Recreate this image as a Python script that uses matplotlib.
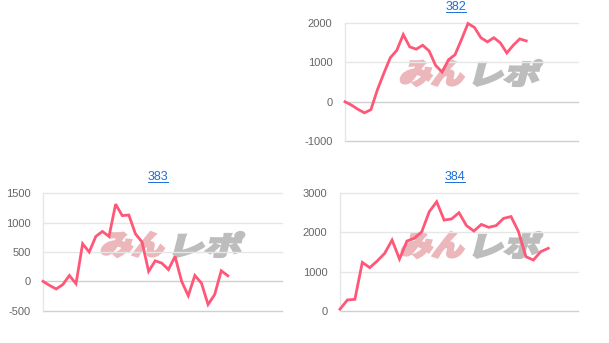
import matplotlib
matplotlib.use("Agg")
import matplotlib.pyplot as plt
from matplotlib.textpath import TextPath
from matplotlib.patches import PathPatch
from matplotlib.font_manager import FontProperties
from matplotlib.transforms import Affine2D, IdentityTransform
from matplotlib.lines import Line2D

plt.rcParams['font.family'] = ['Liberation Sans', 'DejaVu Sans']
plt.rcParams['axes.unicode_minus'] = False

# ---- data ----
titles = ["382", "383", "384"]
vals_382 = [0, -85, -190, -280, -200, 300, 720, 1115, 1300, 1700, 1390, 1330, 1430, 1285,
            920, 750, 1065, 1190, 1575, 1980, 1880, 1620, 1515, 1620, 1490, 1235, 1430, 1590, 1540]
vals_383 = [0, -70, -130, -55, 100, -40, 640, 500, 765, 850, 765, 1315, 1120, 1130, 810, 670,
            170, 350, 310, 200, 425, 0, -245, 100, -30, -395, -225, 180, 95]
vals_384 = [40, 275, 290, 1235, 1100, 1270, 1465, 1805, 1320, 1780, 1850, 2020, 2530, 2785,
            2315, 2345, 2505, 2175, 2035, 2205, 2130, 2175, 2360, 2405, 2020, 1380, 1295, 1510, 1595]
yticks_382 = [-1000, 0, 1000, 2000]
yticks_383 = [-500, 0, 500, 1000, 1500]
yticks_384 = [0, 1000, 2000, 3000]

W, H = 609, 343
fig = plt.figure(figsize=(W / 100, H / 100), dpi=100)
fig.patch.set_facecolor("white")

LINE = "#ff5777"
GRID = "#e6e6e6"
ZERO = "#d0d0d0"


def px_axes(l, r, t, b):
    return fig.add_axes([l / W, (H - b) / H, (r - l) / W, (b - t) / H])


def draw_logo(ax, x0, y0, x1, y1, split):
    # x0..x1, y0..y1 in image pixel coords (y from top)
    fp = FontProperties(family=["Noto Sans CJK JP"], weight="black")
    parts = [("みん", x0, split - 2, "#ebb7bb"), ("レポ", split + 3, x1, "#bdbdbd")]
    for txt, a, b, col in parts:
        tp = TextPath((0, 0), txt, size=40, prop=fp)
        ext = tp.get_extents()
        w_t = b - a
        h_t = y1 - y0
        sh = 0.25
        sx = (w_t - h_t * sh) / ext.width
        sy = h_t / ext.height
        tr = (Affine2D().translate(-ext.x0, -ext.y0).scale(sx, sy)
              .skew(sh, 0).translate(a, H - y1))
        patch = PathPatch(tr.transform_path(tp), facecolor=col, edgecolor=col, lw=1.6,
                          transform=IdentityTransform(), zorder=0.5)
        patch.set_clip_on(False)
        ax.add_artist(patch)


def panel(l, r, t, b, vals, yticks, xmax, title, tx, ty, logo):
    ax = px_axes(l, r, t, b)
    ax.set_zorder(1)
    ax.patch.set_alpha(0)
    x = list(range(len(vals)))
    ax.plot(x, vals, color=LINE, lw=2.0, solid_joinstyle="miter", zorder=3, clip_on=False)
    ax.set_xlim(0, xmax)
    ax.set_ylim(yticks[0], yticks[-1])
    ax.set_yticks(yticks)
    ax.set_yticklabels([str(v) for v in yticks])
    ax.set_xticks([])
    for v in yticks:
        c = ZERO if v in (0, yticks[0]) else GRID
        ax.axhline(v, color=c, lw=1.0, zorder=1, clip_on=False)
    for s in ["top", "right", "bottom"]:
        ax.spines[s].set_visible(False)
    ax.spines["left"].set_color(GRID)
    ax.spines["left"].set_linewidth(1.0)
    ax.tick_params(axis="y", length=0, pad=9, labelsize=8, labelcolor="#666666")
    t_ = fig.text(tx / W, (H - ty) / H, title, ha="center", va="center",
                  fontsize=9, color="#1a6ed8")
    draw_logo(ax, *logo)
    return ax, t_


titles_art = []
titles_art.append(panel(345, 578, 22.7, 141.3, vals_382, yticks_382, 36.0, titles[0], 456, 7,
                        (399, 60, 543, 86, 470))[1])
titles_art.append(panel(43, 282, 193.3, 310.7, vals_383, yticks_383, 36.2, titles[1], 158, 177,
                        (100, 232, 245, 257, 170))[1])
titles_art.append(panel(340, 578, 193.3, 310.7, vals_384, yticks_384, 32.0, titles[2], 455, 177,
                        (400, 232, 543, 258, 470))[1])

fig.canvas.draw()
r = fig.canvas.get_renderer()
for t_ in titles_art:
    bb = t_.get_window_extent(r)
    yline = bb.y0 + 1.0
    fig.add_artist(Line2D([bb.x0 / W, bb.x1 / W], [yline / H, yline / H],
                          color="#1a6ed8", lw=0.7, transform=fig.transFigure))

fig.savefig("out.png", dpi=100, facecolor="white")
